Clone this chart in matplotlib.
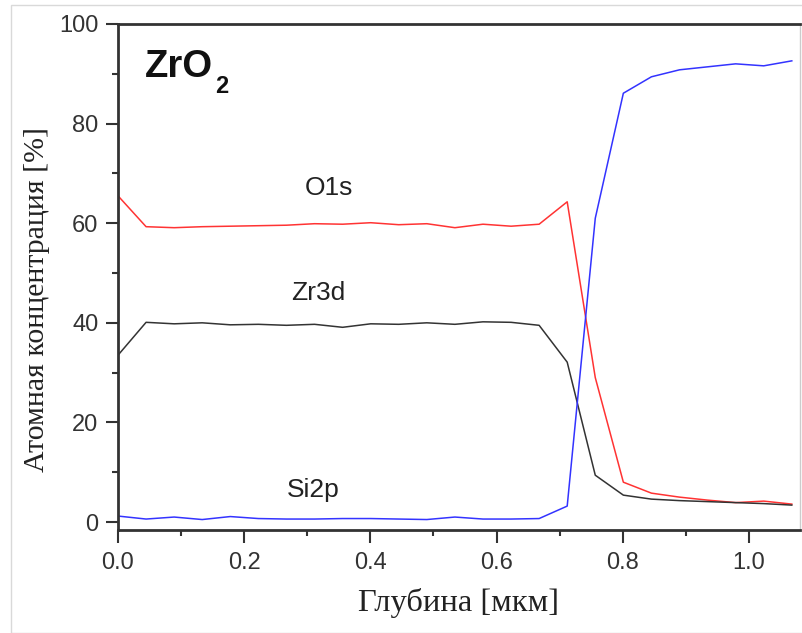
import numpy as np
import matplotlib
matplotlib.use('Agg')
import matplotlib.pyplot as plt
from matplotlib.patches import Rectangle

# глубина, мкм (шаг ~0.0445)
depth = [0.0, 0.0445, 0.089, 0.1335, 0.178, 0.2225, 0.267, 0.3115, 0.356, 0.4005,
         0.445, 0.4895, 0.534, 0.5785, 0.623, 0.6675, 0.712, 0.7565, 0.801, 0.8455,
         0.89, 0.9345, 0.979, 1.0235, 1.068]

o1s = [65.5, 59.3, 59.1, 59.3, 59.4, 59.5, 59.6, 59.9, 59.8, 60.1,
       59.7, 59.9, 59.1, 59.8, 59.4, 59.8, 64.3, 29.0, 8.0, 5.8,
       5.0, 4.4, 3.9, 4.2, 3.6]

zr3d = [33.5, 40.1, 39.8, 40.0, 39.6, 39.7, 39.5, 39.7, 39.1, 39.8,
        39.7, 40.0, 39.7, 40.2, 40.1, 39.5, 32.1, 9.4, 5.4, 4.6,
        4.3, 4.1, 3.9, 3.7, 3.4]

si2p = [1.2, 0.6, 1.0, 0.5, 1.1, 0.7, 0.6, 0.6, 0.7, 0.7,
        0.6, 0.5, 1.0, 0.6, 0.6, 0.7, 3.2, 61.0, 86.1, 89.4,
        90.8, 91.4, 92.0, 91.6, 92.6]

fig = plt.figure(figsize=(8.02, 6.33), dpi=100)
fig.patches.append(Rectangle((11/802, 0), 1, 1 - 5/633, transform=fig.transFigure,
                             fill=False, edgecolor='#d9d9d9', linewidth=1))
ax = fig.add_axes([118/802, 103/633, 682/802, 506/633])

ax.plot(depth, o1s, color='#ff3333', lw=1.1)
ax.plot(depth, zr3d, color='#333333', lw=1.1)
ax.plot(depth, si2p, color='#3333ff', lw=1.1)

ax.set_xlim(0, 1.081)
ax.set_ylim(-1.6, 100)
ax.set_xticks(np.arange(0, 1.01, 0.2))
ax.set_xticks(np.arange(0.1, 1.1, 0.2), minor=True)
ax.set_yticks(np.arange(0, 101, 20))
ax.set_yticks(np.arange(10, 100, 20), minor=True)
ax.set_xticklabels(['0.0', '0.2', '0.4', '0.6', '0.8', '1.0'])

for s in ['left', 'bottom', 'top']:
    ax.spines[s].set_linewidth(2)
    ax.spines[s].set_color('#333333')
ax.spines['right'].set_color('#cccccc')
ax.spines['right'].set_linewidth(1)

ax.tick_params(which='major', direction='out', length=9, width=1.5, colors='#333333',
               labelsize=17, labelcolor='#333333', pad=5)
ax.tick_params(which='minor', direction='out', length=4, width=1.5, colors='#333333')
ax.tick_params(axis='x', which='major', pad=7)
for lab in ax.get_xticklabels() + ax.get_yticklabels():
    lab.set_family('Liberation Sans')

ax.set_xlabel('Глубина [мкм]', family='Liberation Serif', fontsize=23.4, color='#222222', labelpad=10)
ax.set_ylabel('Атомная концентрация [%]', family='Liberation Serif', fontsize=21.5, color='#222222')
ax.yaxis.set_label_coords(-0.099, 0.455)

ax.text(0.334, 67, 'O1s', family='Liberation Sans', fontsize=19, ha='center', va='center', color='#222222')
ax.text(0.317, 46, 'Zr3d', family='Liberation Sans', fontsize=19, ha='center', va='center', color='#222222')
ax.text(0.309, 6.4, 'Si2p', family='Liberation Sans', fontsize=19, ha='center', va='center', color='#222222')
ax.text(0.043, 89.4, 'ZrO', family='Liberation Sans', fontweight='bold', fontsize=27.5,
        ha='left', va='baseline', color='#111111')
ax.text(0.154, 86.2, '2', family='Liberation Sans', fontweight='bold', fontsize=17,
        ha='left', va='baseline', color='#111111')

fig.savefig('out.png', dpi=100)
